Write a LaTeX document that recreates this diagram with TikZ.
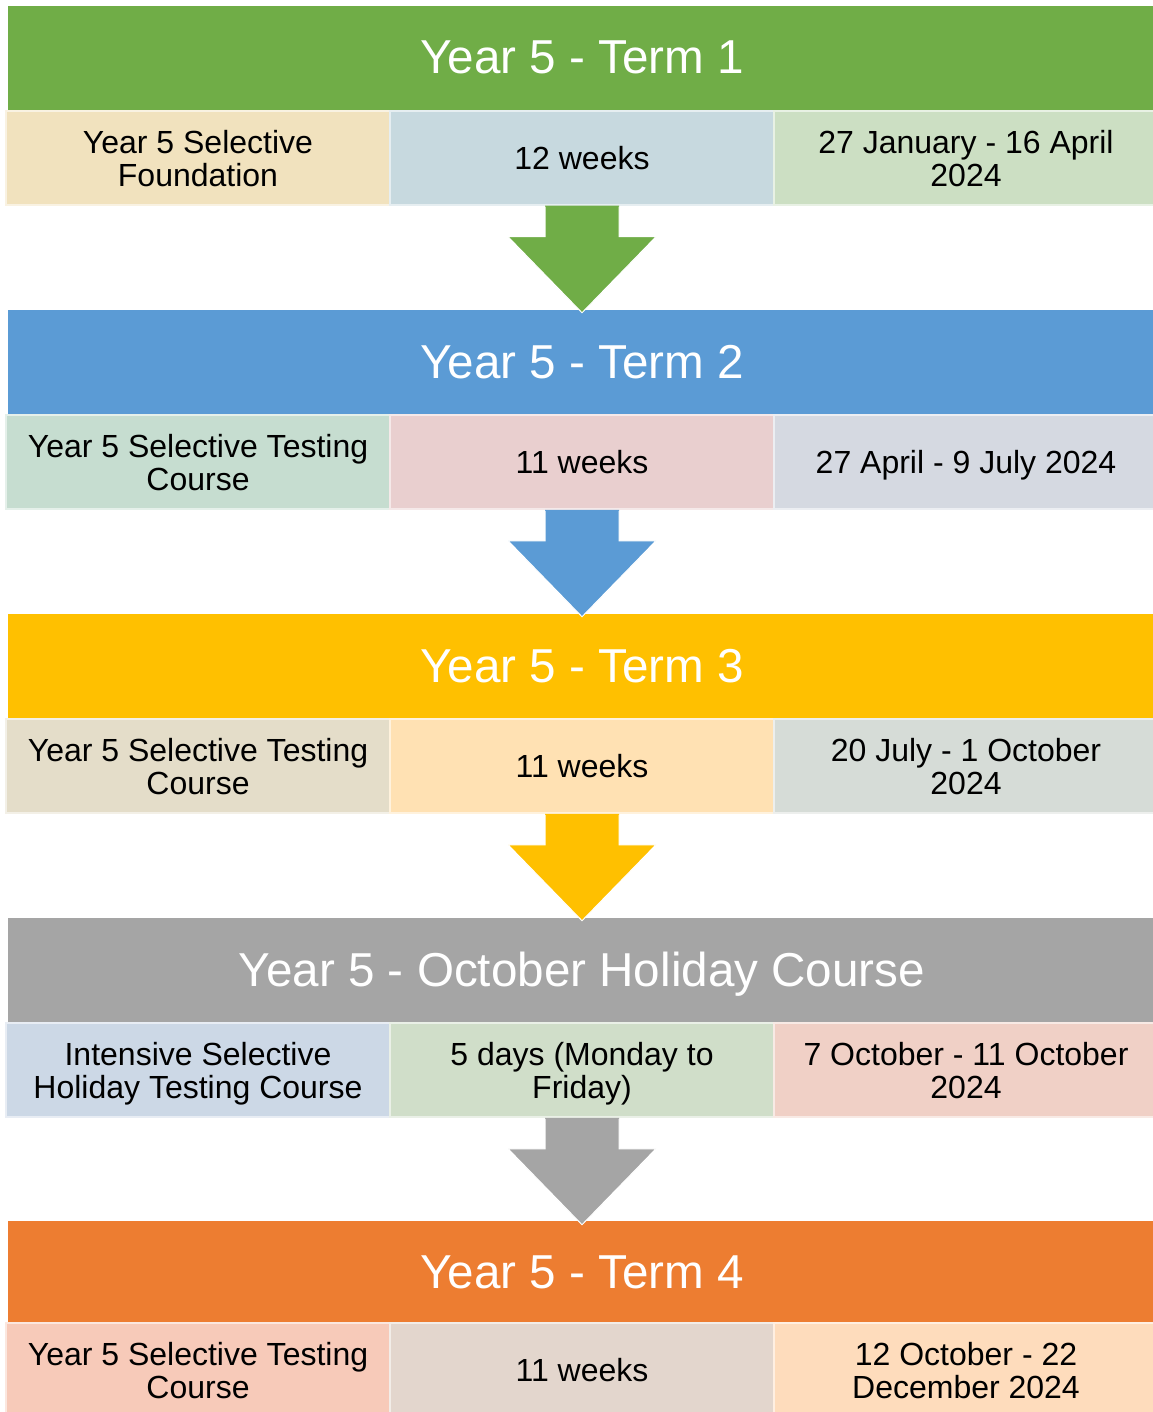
\documentclass[tikz,border=0pt]{standalone}
\usepackage{fontspec}
\setmainfont{Liberation Sans}
\usetikzlibrary{calc}
\definecolor{hgreen}{HTML}{70AD47}
\definecolor{hblue}{HTML}{5B9BD5}
\definecolor{hyellow}{HTML}{FFC000}
\definecolor{hgray}{HTML}{A5A5A5}
\definecolor{horange}{HTML}{ED7D31}
\definecolor{ca1}{HTML}{F1E2BE}
\definecolor{ca2}{HTML}{C7D9DF}
\definecolor{ca3}{HTML}{CCDFC3}
\definecolor{cb1}{HTML}{C6DDD0}
\definecolor{cb2}{HTML}{E9CFCF}
\definecolor{cb3}{HTML}{D5D9E1}
\definecolor{cc1}{HTML}{E4DDC9}
\definecolor{cc2}{HTML}{FFE1B3}
\definecolor{cc3}{HTML}{D6DCD7}
\definecolor{cd1}{HTML}{CCD8E6}
\definecolor{cd2}{HTML}{D0DEC9}
\definecolor{cd3}{HTML}{F0D0C6}
\definecolor{ce1}{HTML}{F7CAB9}
\definecolor{ce2}{HTML}{E3D6CD}
\definecolor{ce3}{HTML}{FEDCBC}
\tikzset{
  hdr/.style={rectangle, inner sep=0pt, minimum width=1148pt, minimum height=105pt,
    text=white, font=\fontsize{47.6}{52}\selectfont, text height=31pt, text depth=0pt},
  cell/.style={rectangle, inner sep=0pt, minimum width=384pt, minimum height=94pt,
    align=center, font=\fontsize{32}{33}\selectfont, text depth=0pt, line width=1.5pt,
    fill=#1, draw=#1!45!white},
}
\newcommand{\blockarrow}[2]{%
  \fill[#2] ($(#1.south)+(-37,0)$) -- ($(#1.south)+(37,0)$) -- ($(#1.south)+(37,31)$)
    -- ($(#1.south)+(74,31)$) -- ($(#1.south)+(0,107)$) -- ($(#1.south)+(-74,31)$)
    -- ($(#1.south)+(-37,31)$) -- cycle;
  \draw[white, line width=1pt, line join=miter] ($(#1.south)+(-37,1)$) -- ($(#1.south)+(-37,31)$)
    -- ($(#1.south)+(-74,31)$) -- ($(#1.south)+(0,107)$) -- ($(#1.south)+(74,31)$)
    -- ($(#1.south)+(37,31)$) -- ($(#1.south)+(37,1)$);
}
\begin{document}
\begin{tikzpicture}[x=1pt,y=-1pt]
\useasboundingbox (0,0) rectangle (1152,1412);
\fill[white] (0,0) rectangle (1152,1412);
% Block 1
\node[hdr, fill=hgreen] (h1) at (582,58.5) {Year 5 - Term 1};
\node[cell=ca1] (l1) at (198,158) {Year 5 Selective\\Foundation};
\node[cell=ca2] (m1) at (582,158) {12 weeks};
\node[cell=ca3] (r1) at (966,158) {27 January - 16 April\\2024};
% Block 2
\node[hdr, fill=hblue] (h2) at (582,362.5) {Year 5 - Term 2};
\node[cell=cb1] (l2) at (198,462) {Year 5 Selective Testing\\Course};
\node[cell=cb2] (m2) at (582,462) {11 weeks};
\node[cell=cb3] (r2) at (966,462) {27 April - 9 July 2024};
% Block 3
\node[hdr, fill=hyellow] (h3) at (582,666.5) {Year 5 - Term 3};
\node[cell=cc1] (l3) at (198,766) {Year 5 Selective Testing\\Course};
\node[cell=cc2] (m3) at (582,766) {11 weeks};
\node[cell=cc3] (r3) at (966,766) {20 July - 1 October\\2024};
% Block 4
\node[hdr, fill=hgray] (h4) at (582,970.5) {Year 5 - October Holiday Course};
\node[cell=cd1] (l4) at (198,1070) {Intensive Selective\\Holiday Testing Course};
\node[cell=cd2] (m4) at (582,1070) {5 days (Monday to\\Friday)};
\node[cell=cd3] (r4) at (966,1070) {7 October - 11 October\\2024};
% Block 5
\node[hdr, fill=horange] (h5) at (582,1273) {Year 5 - Term 4};
\node[cell=ce1] (l5) at (198,1370) {Year 5 Selective Testing\\Course};
\node[cell=ce2] (m5) at (582,1370) {11 weeks};
\node[cell=ce3] (r5) at (966,1370) {12 October - 22\\December 2024};
% Arrows
\blockarrow{m1}{hgreen}
\blockarrow{m2}{hblue}
\blockarrow{m3}{hyellow}
\blockarrow{m4}{hgray}
\end{tikzpicture}
\end{document}
